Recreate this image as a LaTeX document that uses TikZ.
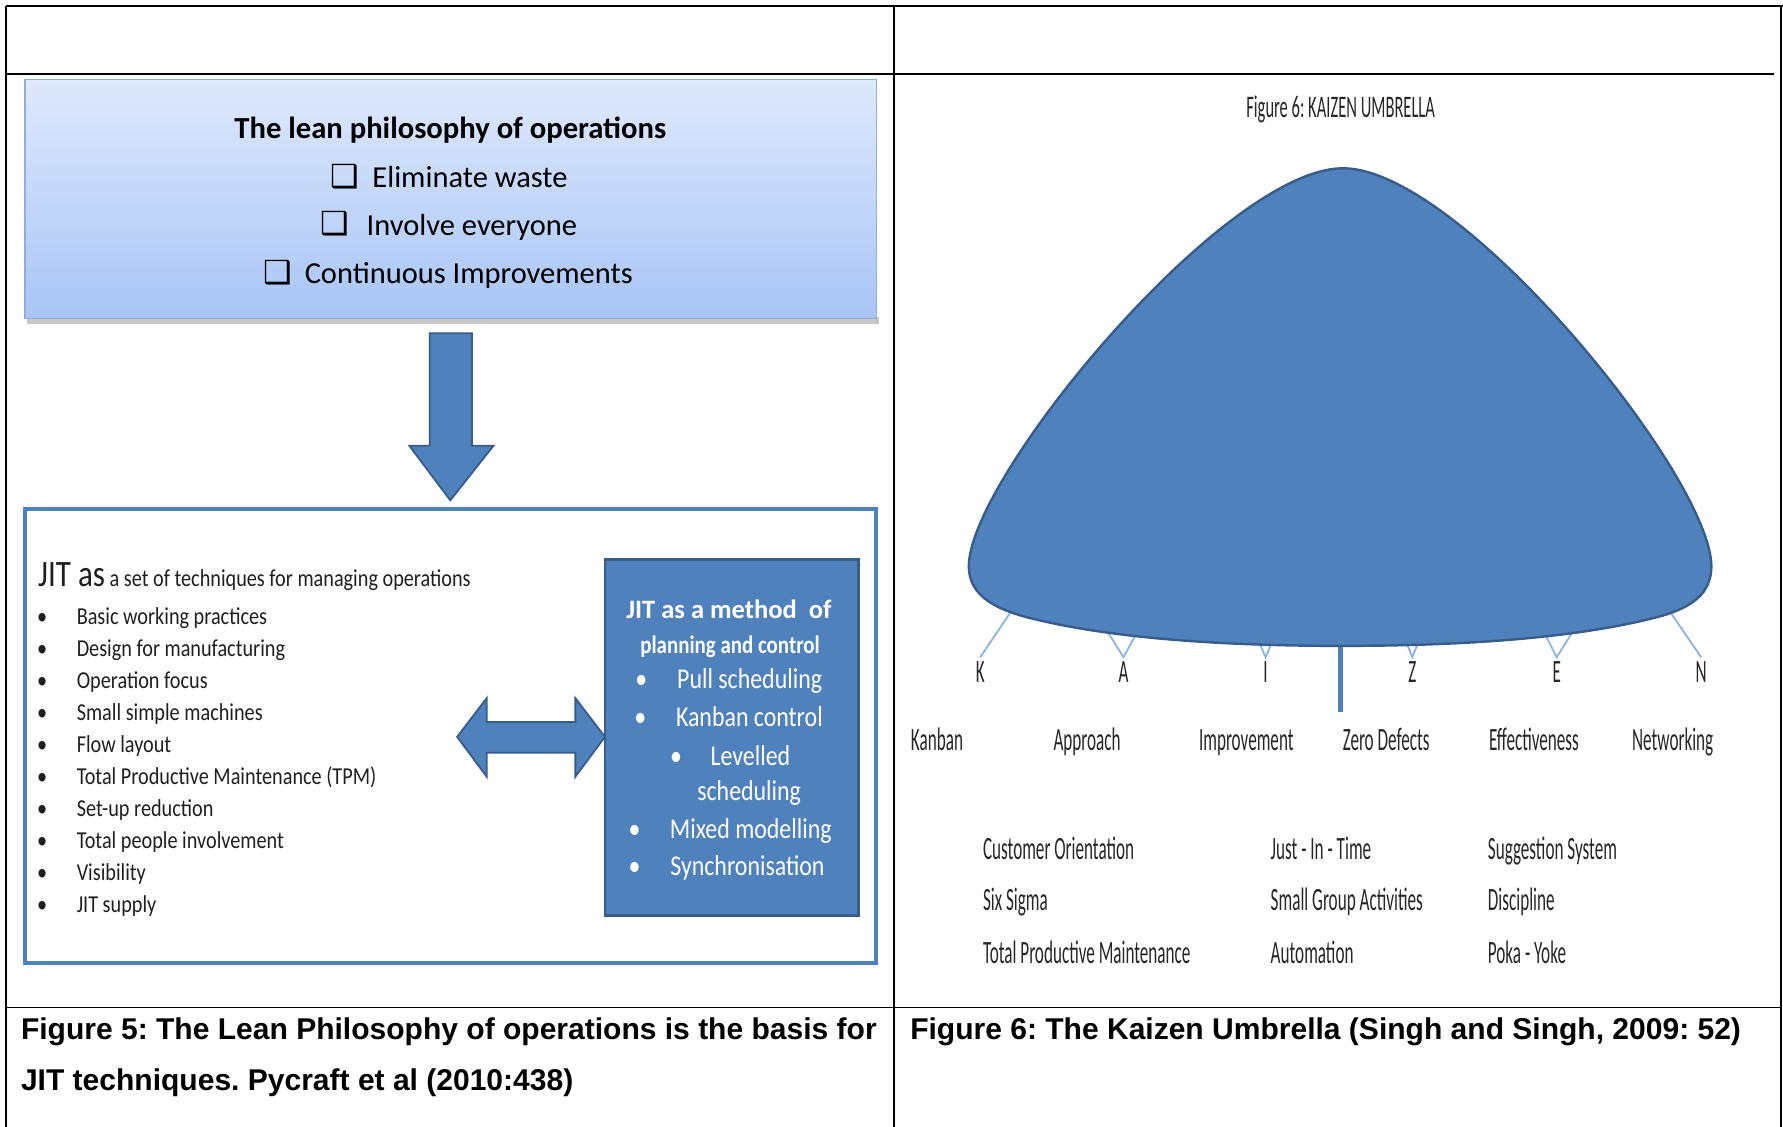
\documentclass[tikz,border=0pt]{standalone}
\usepackage{fontspec}
\usepackage{graphicx}
\setmainfont{Carlito}
\newfontfamily\capfont{Liberation Sans}
\newfontfamily\symfont{DejaVu Sans}
\frenchspacing

\definecolor{jitblue}{HTML}{4F81BD}
\definecolor{jitedge}{HTML}{385D8A}
\definecolor{leantop}{HTML}{DFE9FC}
\definecolor{leanbot}{HTML}{A8C5F6}
\definecolor{leanedge}{HTML}{8EAEDD}
\definecolor{spokeblue}{HTML}{8DB3E2}

% stretched text, left and right panels
\newcommand{\lstr}[1]{\scalebox{1}[1.2]{#1}}
\newcommand{\rstr}[1]{\scalebox{1}[1.9]{#1}}

\tikzset{every picture/.style={line width=0.75pt}}
\tikzset{
  tabline/.style={line width=1.3pt},
  ltext/.style={inner sep=0pt, text=black!88, font=\fontsize{13.35}{16}\selectfont},
  ttext/.style={inner sep=0pt, anchor=base west, font=\fontsize{20.1}{24}\selectfont},
  wtext/.style={inner sep=0pt, text=white, font=\fontsize{15.75}{19}\selectfont},
  rtext/.style={inner sep=0pt, text=black!85, font=\fontsize{11.3}{14}\selectfont},
  letter/.style={rtext, anchor=north, inner sep=2.5pt},
  chkbox/.style={inner sep=0pt, font=\symfont\fontsize{21}{24}\selectfont},
  captext/.style={inner sep=0pt, anchor=base west, font=\capfont\bfseries\fontsize{19.8}{24}\selectfont},
  blockarrow/.style={fill=jitblue, draw=jitedge, line width=1.2pt, line join=miter},
  spoke/.style={draw=spokeblue, line width=1.2pt},
}

\begin{document}
\begin{tikzpicture}[x=0.75pt,y=0.75pt,yscale=-1,xscale=1]
\useasboundingbox (0,0) rectangle (1568,991);

%Table lines
\draw[tabline] (5,5) -- (1568,5);
\draw[tabline] (5,5) -- (5,991);
\draw[tabline] (786,5) -- (786,991);
\draw[tabline] (1566,5) -- (1566,991);
\draw[tabline] (5,65) -- (1560,65);
\draw[tabline] (5,886) -- (1566,886);

%Lean philosophy box
\fill[black!22] (24,279) rectangle (773,285);
\shade[top color=leantop, bottom color=leanbot, draw=leanedge, line width=1pt] (22,70) rectangle (771,280);
\node[inner sep=0pt, anchor=base, font=\bfseries\fontsize{20.2}{24}\selectfont] (leantitle) at (396,121.7) {The lean philosophy of operations};
\node[chkbox] (wastebox) at (303.5,155.7) {❑};
\node[ttext] (waste) at (327,164.7) {Eliminate waste};
\node[chkbox] (involvebox) at (294,196.5) {❑};
\node[ttext] (involve) at (322,206.7) {Involve everyone};
\node[chkbox] (improvebox) at (244.6,240) {❑};
\node[ttext] (improve) at (267.5,249.2) {Continuous Improvements};

%Down arrow
\draw[blockarrow] (378,293) -- (415,293) -- (415,392) -- (434,392) -- (396,440) -- (360,392) -- (378,392) -- cycle;

%JIT techniques box
\draw[draw=jitblue, line width=2.6pt] (22,448) rectangle (770,847);
\node[ltext, anchor=base west] (jitas) at (33,516) {\lstr{{\fontsize{20.5}{24}\selectfont JIT as} a set of techniques for managing operations}};
\foreach \i/\txt in {0/Basic working practices, 1/Design for manufacturing, 2/Operation focus, 3/Small simple machines, 4/Flow layout, 5/Total Productive Maintenance (TPM), 6/Set-up reduction, 7/Total people involvement, 8/Visibility, 9/JIT supply} {
  \node[ltext, anchor=base] (dot\i) at (37,549.6+28.07*\i) {\lstr{•}};
  \node[ltext, anchor=base west] (tech\i) at (67,549.6+28.07*\i) {\lstr{\txt}};
}

%Double arrow
\draw[blockarrow] (402,648) -- (428,614) -- (428,635) -- (506,635) -- (506,614) -- (532,648) -- (506,683) -- (506,662) -- (428,662) -- (428,683) -- cycle;

%JIT planning box
\filldraw[fill=jitblue, draw=jitedge, line width=1.5pt] (532,492) rectangle (755,805);
\node[wtext, anchor=base, font=\bfseries\fontsize{17.5}{21}\selectfont] (method) at (641,544) {JIT as a method\ \ of};
\node[wtext, anchor=base, font=\bfseries\fontsize{13.8}{17}\selectfont] (planning) at (642,574.6) {\lstr{planning and control}};
\node[wtext, anchor=base] (pulldot) at (564,605.3) {\lstr{•}};
\node[wtext, anchor=base west] (pull) at (595,605.3) {\lstr{Pull scheduling}};
\node[wtext, anchor=base] (kanbandot) at (563,639) {\lstr{•}};
\node[wtext, anchor=base west] (kanbanctl) at (594,639) {\lstr{Kanban control}};
\node[wtext, anchor=base] (leveldot) at (594.5,672.8) {\lstr{•}};
\node[wtext, anchor=base west] (level) at (624.4,672.8) {\lstr{Levelled}};
\node[wtext, anchor=base west] (levelsched) at (612.7,703.6) {\lstr{scheduling}};
\node[wtext, anchor=base] (mixeddot) at (558,737.3) {\lstr{•}};
\node[wtext, anchor=base west] (mixed) at (588.6,737.3) {\lstr{Mixed modelling}};
\node[wtext, anchor=base] (syncdot) at (558,769.5) {\lstr{•}};
\node[wtext, anchor=base west] (sync) at (589,769.5) {\lstr{Synchronisation}};

%Kaizen umbrella
\node[rtext, anchor=base, font=\fontsize{10.9}{13}\selectfont] (kaizen) at (1179,103) {\rstr{Figure 6: KAIZEN UMBRELLA}};

\foreach \nm/\x/\t in {lk/862/K, la/988/A, li/1113/I, lz/1242/Z, le/1369/E, ln/1496/N}
  \node[letter] (\nm) at (\x,578) {\rstr{\t}};

\coordinate (rk) at (889,538);
\coordinate (ra1) at (973,554);
\coordinate (ra2) at (1000,556);
\coordinate (ri1) at (1107,564);
\coordinate (ri2) at (1119,564);
\coordinate (rz1) at (1236,563);
\coordinate (rz2) at (1248,563);
\coordinate (re1) at (1358,556);
\coordinate (re2) at (1384,554);
\coordinate (rn) at (1468,537);

\draw[spoke] (rk) -- (lk.north);
\draw[spoke] (ra1) -- (la.north) -- (ra2);
\draw[spoke] (ri1) -- (li.north) -- (ri2);
\draw[spoke] (rz1) -- (lz.north) -- (rz2);
\draw[spoke] (re1) -- (le.north) -- (re2);
\draw[spoke] (rn) -- (ln.north);
\draw[draw=jitblue, line width=3pt] (1179,555) -- (1179,626);

\filldraw[fill=jitblue, draw=jitedge, line width=1.6pt]
  (1181,148) .. controls (1285,148) and (1505,420) .. (1505,498)
  .. controls (1505,522) and (1488,534) .. (1460,542)
  .. controls (1385,562) and (1280,568) .. (1180,568)
  .. controls (1080,568) and (975,562) .. (900,542)
  .. controls (872,534) and (852,522) .. (852,498)
  .. controls (852,420) and (1077,148) .. (1181,148) -- cycle;

\foreach \nm/\x/\txt in {kanban/824/Kanban, approach/956/Approach, improvement/1096/Improvement, zero/1219/Zero Defects, effect/1349/Effectiveness, network/1471/Networking}
  \node[rtext, anchor=base] (\nm) at (\x,660) {\rstr{\txt}};

\foreach \nm/\x/\y/\txt in {cust/864/756/Customer Orientation, six/864/801/Six Sigma, tpm/864/847/Total Productive Maintenance, jit/1117/756/Just - In - Time, sga/1117/801/Small Group Activities, auto/1117/847/Automation, sugg/1308/756/Suggestion System, disc/1308/801/Discipline, poka/1308/847/Poka - Yoke}
  \node[rtext, anchor=base west] (\nm) at (\x,\y) {\rstr{\txt}};

%Captions
\node[captext] (cap5a) at (18,914) {Figure 5: The Lean Philosophy of operations is the basis for};
\node[captext] (cap5b) at (18,959) {JIT techniques. Pycraft et al (2010:438)};
\node[captext] (cap6) at (800,914) {Figure 6: The Kaizen Umbrella (Singh and Singh, 2009: 52)};
\end{tikzpicture}
\end{document}
